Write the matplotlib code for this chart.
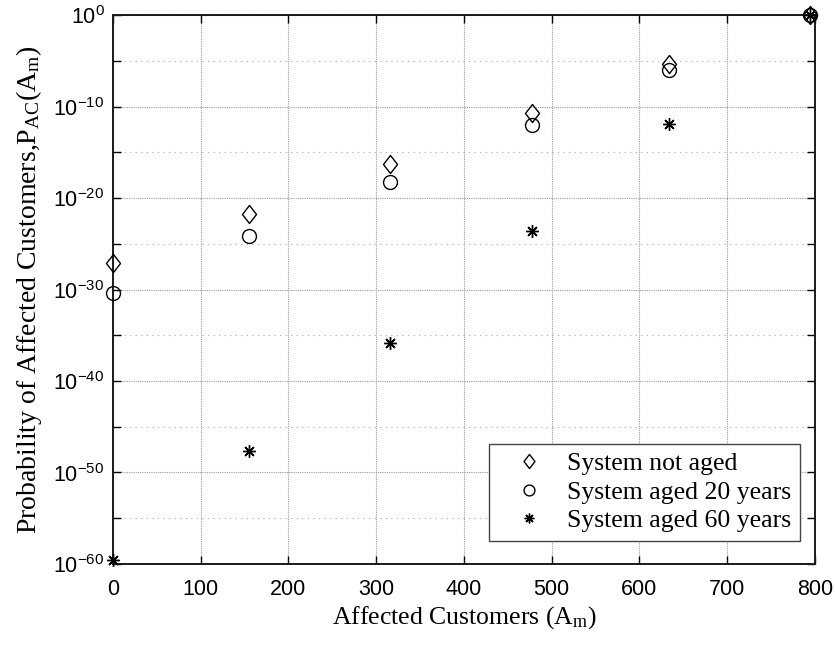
import numpy as np
import matplotlib
matplotlib.use('Agg')
import matplotlib.pyplot as plt
from matplotlib.path import Path

plt.rcParams['mathtext.fontset'] = 'custom'
plt.rcParams['mathtext.rm'] = 'Liberation Serif'
plt.rcParams['mathtext.it'] = 'Liberation Serif:italic'
plt.rcParams['mathtext.sf'] = 'Liberation Sans'

# affected customers and probabilities for the three system ages
customers = [0, 155, 316, 478, 634, 794]
p_not_aged = [7.9e-28, 2.0e-22, 5.0e-17, 2.0e-11, 5.0e-6, 1.0]
p_aged_20 = [4.5e-31, 7.9e-25, 6.3e-19, 1.0e-12, 1.0e-6, 1.0]
p_aged_60 = [2.5e-60, 2.0e-48, 1.26e-36, 2.2e-24, 1.26e-12, 1.0]

labels = ['System not aged', 'System aged 20 years', 'System aged 60 years']
xticks = [0, 100, 200, 300, 400, 500, 600, 700, 800]
ydecades = [0, -10, -20, -30, -40, -50, -60]

# matlab-style diamond, a bit taller than wide
diamond = Path([(0, 1), (0.78, 0), (0, -1), (-0.78, 0), (0, 1)],
               [Path.MOVETO, Path.LINETO, Path.LINETO, Path.LINETO, Path.CLOSEPOLY])

fig = plt.figure(figsize=(8.35, 6.45), dpi=100)
ax = fig.add_axes([0.1353, 0.1256, 0.8407, 0.8511])

ax.plot(customers, p_not_aged, linestyle='none', marker=diamond, markersize=13,
        mfc='none', mec='black', mew=1.0, clip_on=False, zorder=3, label=labels[0])
ax.plot(customers, p_aged_20, linestyle='none', marker='o', markersize=10,
        mfc='none', mec='black', mew=1.0, clip_on=False, zorder=3, label=labels[1])
ax.plot(customers, p_aged_60, linestyle='none', marker=(8, 2, 0), markersize=9,
        mfc='none', mec='black', mew=1.0, clip_on=False, zorder=3, label=labels[2])

ax.set_yscale('log')
ax.set_xlim(0, 800)
ax.set_ylim(1e-60, 1e0)

ax.set_xticks(xticks)
ax.set_xticklabels([str(v) for v in xticks], family='Liberation Sans', fontsize=15.5)
ax.set_yticks([10.0 ** d for d in ydecades])
ax.set_yticklabels([r'$\mathsf{10^{%d}}$' % d for d in ydecades], fontsize=15.5)
ax.set_yticks([10.0 ** d for d in range(-55, 0, 10)], minor=True)
ax.set_yticklabels([], minor=True)

ax.tick_params(which='both', direction='in', top=True, right=True, length=6,
               width=1.0, pad=6, colors='black')
ax.tick_params(axis='x', pad=11)

ax.grid(True, which='major', color='#9a9a9a', linestyle=(0, (1, 1)), linewidth=0.8)
ax.grid(True, which='minor', axis='y', color='#a8a8a8', linestyle=(0, (1, 4)), linewidth=0.8)
ax.set_axisbelow(True)

for sp in ax.spines.values():
    sp.set_linewidth(1.4)
    sp.set_color('#1a1a1a')

ax.set_xlabel(r'Affected Customers (A$_{\rm m}$)', family='Liberation Serif',
              fontsize=18.5, labelpad=3)
ax.set_ylabel(r'Probability of Affected Customers,P$_{\rm AC}$(A$_{\rm m}$)',
              family='Liberation Serif', fontsize=20, labelpad=7)

leg = ax.legend(loc='lower right', bbox_to_anchor=(0.9786, 0.0419), borderaxespad=0,
                prop={'family': 'Liberation Serif', 'size': 18.5}, frameon=True,
                fancybox=False, framealpha=1, edgecolor='#444444', handletextpad=0.3,
                labelspacing=0.21, borderpad=0.34, handlelength=2.4, markerscale=0.78)
leg.get_frame().set_linewidth(1.0)

fig.savefig('out.png', dpi=100)
